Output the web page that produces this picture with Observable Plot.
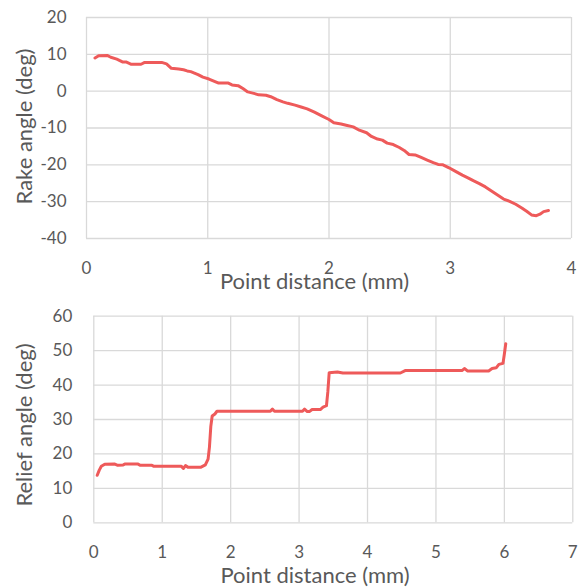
<!DOCTYPE html>
<html>
<head>
<meta charset="utf-8">
<script src="https://cdn.jsdelivr.net/npm/d3@7"></script>
<script src="https://cdn.jsdelivr.net/npm/@observablehq/plot@0.6"></script>
<style>
  html, body { margin: 0; padding: 0; background: #fff; }
  #chart svg { display: block; }
</style>
</head>
<body>
<div id="chart"></div>
<script>
// ---- Data ----
const rakeX = [0.07,0.10,0.17,0.20,0.25,0.30,0.33,0.37,0.45,0.48,0.62,0.66,0.70,0.76,0.80,0.83,0.86,0.92,0.96,1.01,1.06,1.09,1.17,1.20,1.25,1.29,1.33,1.38,1.42,1.48,1.52,1.57,1.62,1.66,1.72,1.77,1.82,1.88,1.94,2.00,2.04,2.10,2.15,2.20,2.25,2.31,2.35,2.40,2.44,2.48,2.53,2.58,2.62,2.66,2.71,2.76,2.81,2.86,2.90,2.94,2.99,3.04,3.10,3.15,3.19,3.24,3.29,3.34,3.39,3.44,3.49,3.54,3.59,3.63,3.67,3.71,3.74,3.77,3.81];
const rakeY = [9.0,9.6,9.7,9.2,8.7,7.9,7.9,7.3,7.3,7.8,7.8,7.4,6.2,6.0,5.8,5.5,5.3,4.5,3.8,3.3,2.6,2.2,2.2,1.7,1.5,0.7,-0.2,-0.6,-1.0,-1.1,-1.5,-2.3,-2.9,-3.3,-3.8,-4.3,-4.8,-5.7,-6.7,-7.7,-8.6,-8.9,-9.3,-9.7,-10.6,-11.3,-12.3,-13.0,-13.3,-14.1,-14.5,-15.3,-16.1,-17.2,-17.3,-18.0,-18.7,-19.4,-19.9,-20.0,-20.8,-21.7,-22.8,-23.6,-24.3,-25.1,-26.0,-27.1,-28.2,-29.3,-29.9,-30.7,-31.7,-32.6,-33.6,-33.8,-33.4,-32.7,-32.4];

const reliefX = [0.05,0.08,0.11,0.16,0.30,0.35,0.43,0.46,0.64,0.68,0.85,0.88,1.28,1.31,1.34,1.38,1.56,1.63,1.67,1.69,1.71,1.73,1.77,1.80,2.58,2.61,2.64,3.05,3.08,3.12,3.15,3.19,3.31,3.35,3.40,3.42,3.44,3.56,3.64,4.48,4.55,5.38,5.42,5.46,5.77,5.82,5.88,5.92,5.98,6.00,6.02];
const reliefY = [13.8,15.3,16.4,17.0,17.1,16.7,16.8,17.1,17.1,16.7,16.7,16.4,16.4,15.8,16.6,16.1,16.1,16.8,18.5,22.0,28.0,31.0,31.6,32.4,32.4,33.0,32.4,32.4,33.0,32.3,32.3,32.9,32.9,33.6,34.0,38.0,43.6,43.8,43.5,43.5,44.2,44.2,44.8,44.1,44.1,44.8,45.0,46.0,46.3,49.0,52.0];

const topXTicks = [0,1,2,3,4];
const topYTicks = [-40,-30,-20,-10,0,10,20];
const botXTicks = [0,1,2,3,4,5,6,7];
const botYTicks = [0,10,20,30,40,50,60];

const xTitle = "Point distance (mm)";
const topYTitle = "Rake angle (deg)";
const botYTitle = "Relief angle (deg)";

// ---- Styling ----
const lineColor = "#ee5a5a";
const gridColor = "#d9d9d9";
const textColor = "#595959";
const font = "Lato, 'Open Sans', sans-serif";

const rake = rakeX.map((x, i) => ({x, y: rakeY[i]}));
const relief = reliefX.map((x, i) => ({x, y: reliefY[i]}));
const fmt = d => String(d);

function panel({data, xTicks, yTicks, yTitle, height, mt, mb, ml, mr, yPad, xTitleDx, xTitleDy, yTitleDx, yTitleDy}) {
  return Plot.plot({
    width: 578,
    height,
    marginTop: mt,
    marginBottom: mb,
    marginLeft: ml,
    marginRight: mr,
    style: {fontFamily: font, fontSize: "17px", color: textColor, background: "#fff", overflow: "visible"},
    x: {domain: [xTicks[0], xTicks[xTicks.length - 1]]},
    y: {domain: [yTicks[0], yTicks[yTicks.length - 1]]},
    marks: [
      Plot.gridX(xTicks, {stroke: gridColor, strokeOpacity: 1, strokeWidth: 1.3}),
      Plot.gridY(yTicks, {stroke: gridColor, strokeOpacity: 1, strokeWidth: 1.3}),
      Plot.axisX(xTicks, {tickSize: 0, tickPadding: 23, tickFormat: fmt, label: null, fill: textColor, fontSize: 17}),
      Plot.axisY(yTicks, {tickSize: 0, tickPadding: yPad, tickFormat: fmt, label: null, fill: textColor, fontSize: 17}),
      Plot.line(data, {x: "x", y: "y", stroke: lineColor, strokeWidth: 3, strokeLinejoin: "round", strokeLinecap: "round"}),
      Plot.text([xTitle], {frameAnchor: "bottom", text: d => d, dx: xTitleDx, dy: xTitleDy, fontSize: 22, fill: textColor, textAnchor: "middle", lineAnchor: "middle"}),
      Plot.text([yTitle], {frameAnchor: "left", text: d => d, rotate: -90, dx: yTitleDx, dy: yTitleDy, fontSize: 22, fill: textColor, textAnchor: "middle", lineAnchor: "middle"})
    ]
  });
}

const topPanel = panel({
  data: rake, xTicks: topXTicks, yTicks: topYTicks, yTitle: topYTitle,
  height: 290, mt: 17, mb: 52, ml: 86, mr: 7, yPad: 20,
  xTitleDx: -14.5, xTitleDy: 43.5, yTitleDx: -61.5, yTitleDy: -1.5
});
const bottomPanel = panel({
  data: relief, xTicks: botXTicks, yTicks: botYTicks, yTitle: botYTitle,
  height: 297, mt: 25.7, mb: 64.7, ml: 93.3, mr: 5.7, yPad: 21.5,
  xTitleDx: -18.3, xTitleDy: 53.5, yTitleDx: -69.3, yTitleDy: 5.5
});

document.getElementById("chart").append(topPanel, bottomPanel);
</script>
</body>
</html>
